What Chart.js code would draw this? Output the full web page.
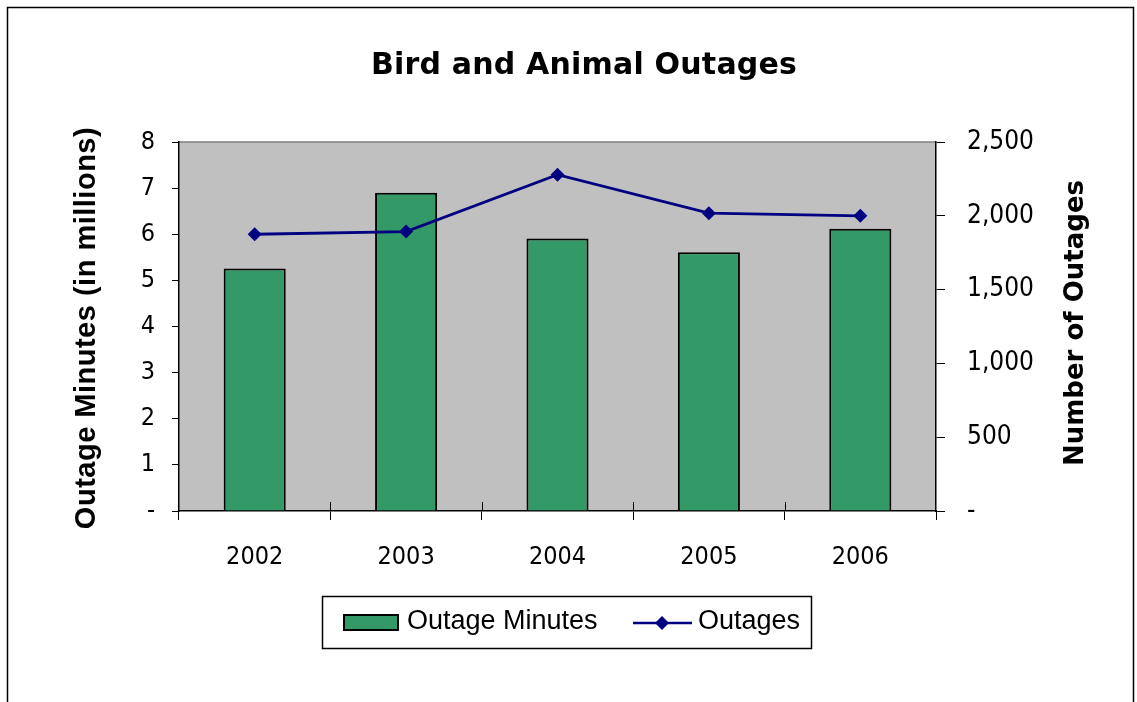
<!DOCTYPE html>
<html>
<head>
<meta charset="utf-8">
<title>Bird and Animal Outages</title>
<script src="https://cdn.jsdelivr.net/npm/chart.js@4/dist/chart.umd.min.js"></script>
<style>
  html, body { margin: 0; padding: 0; background: #fff; }
  #wrap { width: 1137px; height: 702px; }
</style>
</head>
<body>
<div id="wrap"><canvas id="c" width="1137" height="702"></canvas></div>
<script>
// Yearly bird and animal outage data
const years = ['2002', '2003', '2004', '2005', '2006'];
const outageMinutes = [5.26, 6.90, 5.91, 5.61, 6.12];   // millions of minutes
const outageCounts = [1875, 1893, 2278, 2018, 2000];    // number of outages
const leftTicks = [0, 1, 2, 3, 4, 5, 6, 7, 8];
const rightTicks = [0, 500, 1000, 1500, 2000, 2500];

const TICK_FONT = { family: '"DejaVu Sans Condensed", "DejaVu Sans", sans-serif', size: 25 };
const RIGHT_TICK_FONT = { family: '"DejaVu Sans Condensed", "DejaVu Sans", sans-serif', size: 26 };

// Plot background, frame, title, axis titles and legend
const decor = {
  id: 'decor',
  beforeDraw(chart) {
    const { ctx, chartArea: a } = chart;
    ctx.save();
    ctx.fillStyle = '#fff';
    ctx.fillRect(0, 0, chart.width, chart.height);
    // outer frame
    ctx.strokeStyle = '#000';
    ctx.lineWidth = 1.5;
    ctx.beginPath();
    ctx.moveTo(7.5, 720);
    ctx.lineTo(7.5, 7.5);
    ctx.lineTo(1133.5, 7.5);
    ctx.lineTo(1133.5, 720);
    ctx.stroke();
    // plot area
    ctx.fillStyle = '#c0c0c0';
    ctx.fillRect(a.left, a.top, a.right - a.left, a.bottom - a.top);
    ctx.strokeStyle = '#808080';
    ctx.lineWidth = 1.5;
    ctx.beginPath();
    ctx.moveTo(a.left, a.top);
    ctx.lineTo(a.right, a.top);
    ctx.stroke();
    ctx.restore();
  },
  afterDatasetsDraw(chart) {
    // short category ticks rising into the plot from the x axis
    const { ctx, scales: { x } } = chart;
    const a = chart.chartArea;
    ctx.save();
    ctx.strokeStyle = '#000';
    ctx.lineWidth = 1;
    for (let i = 1; i < years.length; i++) {
      const px = Math.round((x.getPixelForTick(i - 1) + x.getPixelForTick(i)) / 2) + 0.5;
      ctx.beginPath();
      ctx.moveTo(px, a.bottom);
      ctx.lineTo(px, a.bottom - 9);
      ctx.stroke();
    }
    ctx.restore();
  },
  afterDraw(chart) {
    const { ctx } = chart;
    ctx.save();
    ctx.fillStyle = '#000';
    // title
    ctx.font = 'bold 30px "DejaVu Sans", sans-serif';
    ctx.letterSpacing = '0.2px';
    ctx.textAlign = 'center';
    ctx.textBaseline = 'middle';
    ctx.fillText('Bird and Animal Outages', 584, 66);

    // left axis title
    ctx.save();
    ctx.translate(87, 328);
    ctx.rotate(-Math.PI / 2);
    ctx.font = 'bold 29px "Liberation Sans", Arial, sans-serif';
    ctx.letterSpacing = '0.5px';
    ctx.fillText('Outage Minutes (in millions)', 0, 0);
    ctx.restore();

    // right axis title
    ctx.save();
    ctx.translate(1076, 323);
    ctx.rotate(-Math.PI / 2);
    ctx.font = 'bold 26px "DejaVu Sans", sans-serif';
    ctx.letterSpacing = '0px';
    ctx.fillText('Number of Outages', 0, 0);
    ctx.restore();
    ctx.letterSpacing = '0px';

    // legend
    const ds = chart.data.datasets;
    const barDs = ds.find(d => d.type === 'bar');
    const lineDs = ds.find(d => d.type === 'line');
    ctx.strokeStyle = '#000';
    ctx.lineWidth = 1.5;
    ctx.strokeRect(322.5, 596.5, 489, 52);
    ctx.font = '27px "Liberation Sans", Arial, sans-serif';
    ctx.textAlign = 'left';
    ctx.textBaseline = 'middle';
    // bar entry
    ctx.fillStyle = barDs.backgroundColor;
    ctx.fillRect(343, 614, 56, 17);
    ctx.strokeStyle = barDs.borderColor;
    ctx.lineWidth = 2;
    ctx.strokeRect(344, 615, 54, 15);
    ctx.fillStyle = '#000';
    ctx.fillText(barDs.label, 407, 622);
    // line entry
    ctx.strokeStyle = lineDs.borderColor;
    ctx.lineWidth = 2.5;
    ctx.beginPath();
    ctx.moveTo(633, 623);
    ctx.lineTo(692, 623);
    ctx.stroke();
    ctx.fillStyle = lineDs.borderColor;
    ctx.beginPath();
    ctx.moveTo(662, 616);
    ctx.lineTo(669, 623);
    ctx.lineTo(662, 630);
    ctx.lineTo(655, 623);
    ctx.closePath();
    ctx.fill();
    ctx.fillStyle = '#000';
    ctx.fillText(lineDs.label, 698, 622);
    ctx.restore();
  }
};

const fmt = v => (v === 0 ? '-' : v.toLocaleString('en-US'));

new Chart(document.getElementById('c'), {
  type: 'bar',
  data: {
    labels: years,
    datasets: [
      {
        type: 'line',
        label: 'Outages',
        data: outageCounts,
        yAxisID: 'y1',
        borderColor: '#000080',
        backgroundColor: '#000080',
        borderWidth: 2.8,
        pointStyle: 'rectRot',
        pointRadius: 7,
        pointHoverRadius: 7,
        pointBackgroundColor: '#000080',
        pointBorderColor: '#000080',
        pointBorderWidth: 0,
        tension: 0,
        order: 1
      },
      {
        type: 'bar',
        label: 'Outage Minutes',
        data: outageMinutes,
        yAxisID: 'y',
        backgroundColor: '#339966',
        borderColor: '#000',
        borderWidth: 2,
        barPercentage: 0.41,
        categoryPercentage: 1,
        order: 2
      }
    ]
  },
  options: {
    responsive: false,
    animation: false,
    devicePixelRatio: 1,
    layout: { padding: { left: 0, right: 0, top: 142, bottom: 0 } },
    plugins: { legend: { display: false }, title: { display: false }, tooltip: { enabled: false } },
    scales: {
      x: {
        offset: true,
        grid: { offset: true, drawOnChartArea: false, drawTicks: true, tickLength: 9, color: '#000', lineWidth: 1 },
        border: { color: '#000', width: 1.5 },
        ticks: { font: TICK_FONT, color: '#000', padding: 22, maxRotation: 0 },
        afterFit(s) { s.height = 191; }
      },
      y: {
        position: 'left',
        min: 0,
        max: 8,
        afterBuildTicks(s) { s.ticks = leftTicks.map(v => ({ value: v })); },
        grid: { drawOnChartArea: false, tickLength: 7, color: '#000', lineWidth: 1 },
        border: { color: '#000', width: 1.5 },
        ticks: { font: TICK_FONT, color: '#000', padding: 17, callback: fmt },
        afterFit(s) { s.width = 179; }
      },
      y1: {
        position: 'right',
        min: 0,
        max: 2500,
        afterBuildTicks(s) { s.ticks = rightTicks.map(v => ({ value: v })); },
        grid: { drawOnChartArea: false, tickLength: 9, color: '#000', lineWidth: 1 },
        border: { color: '#000', width: 1.5 },
        ticks: { font: RIGHT_TICK_FONT, color: '#000', padding: 22, callback: fmt },
        afterFit(s) { s.width = 201; }
      }
    }
  },
  plugins: [decor]
});
</script>
</body>
</html>
